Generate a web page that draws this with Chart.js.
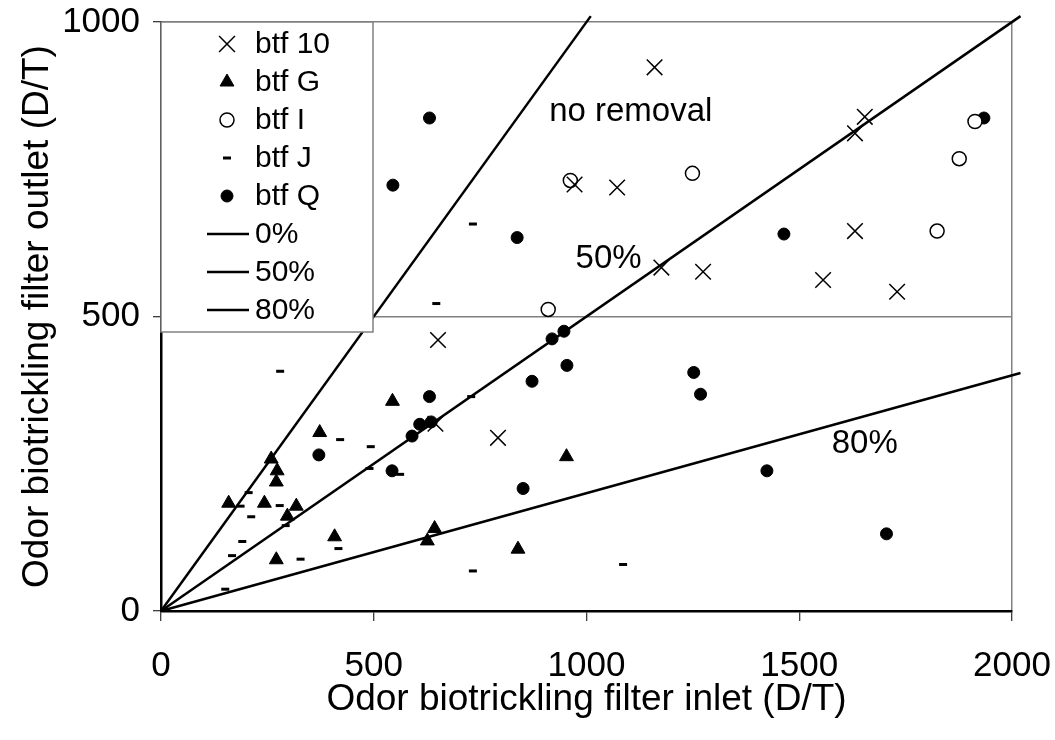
<!DOCTYPE html>
<html>
<head>
<meta charset="utf-8">
<script src="https://cdn.jsdelivr.net/npm/chart.js@4.4.1/dist/chart.umd.min.js"></script>
<style>
html, body { margin: 0; padding: 0; background: #fff; }
#wrap { width: 1055px; height: 740px; position: relative; }
</style>
</head>
<body>
<div id="wrap"><canvas id="odor"></canvas></div>
<script>
// inlet / outlet odor, D/T
const btf10 = [[1160,923],[1654,839],[1631,811],[972,724],[1072,719],[1176,583],[1274,576],
  [1631,645],[1556,562],[1730,542],[651,460],[792,294],[645,318]];
const btfG = [[544,356],[373,303],[259,258],[273,238],[271,219],[159,183],[243,183],[318,178],
  [297,161],[408,126],[271,87],[643,140],[626,119],[953,262],[839,105]];
const btfI = [[962,731],[1249,743],[910,512],[1913,831],[1876,768],[1824,645]];
const btfJ = [[647,522],[733,657],[280,407],[421,291],[493,279],[490,242],[562,232],[206,201],
  [187,178],[279,179],[212,160],[293,145],[417,106],[191,118],[167,94],[328,88],[151,37],
  [729,364],[733,68],[1086,79]];
const btfQ = [[631,837],[545,723],[837,634],[1464,640],[1934,837],[631,364],[608,317],[635,321],
  [590,297],[371,265],[543,238],[919,462],[947,475],[954,417],[872,390],[1252,405],[1268,368],
  [851,208],[1424,238],[1705,131]];

// removal reference lines (end points)
const line0 = [[0,0],[1010,1010]];
const line50 = [[0,0],[2020,1010]];
const line80 = [[0,0],[2020,404]];

const xTicks = [0, 500, 1000, 1500, 2000];
const yTicks = [0, 500, 1000];

const noteText = ['no removal', '50%', '80%'];
const noteX = [1104, 1052, 1654];
const noteY = [847, 597, 283];

const FONT = "'Liberation Sans', Arial, sans-serif";
const pts = arr => arr.map(([x, y]) => ({x, y}));

function mark(label, data, style, r, fill, bw) {
  return {
    type: 'scatter', label, data: pts(data), pointStyle: style, pointRadius: r,
    pointBackgroundColor: fill, pointBorderColor: '#000', pointBorderWidth: bw
  };
}
function refLine(label, data) {
  return {
    type: 'line', label, data: pts(data), borderColor: '#000', borderWidth: 2.5,
    pointRadius: 0, fill: false, tension: 0, clip: false
  };
}

function drawMark(ctx, ds, cx, cy) {
  const r = ds.pointRadius;
  ctx.lineWidth = ds.pointBorderWidth;
  ctx.fillStyle = ds.pointBackgroundColor;
  ctx.strokeStyle = '#000';
  ctx.beginPath();
  if (ds.pointStyle === 'crossRot') {
    const d = r * 0.72;
    ctx.moveTo(cx - d, cy - d); ctx.lineTo(cx + d, cy + d);
    ctx.moveTo(cx + d, cy - d); ctx.lineTo(cx - d, cy + d);
    ctx.stroke();
  } else if (ds.pointStyle === 'triangle') {
    ctx.moveTo(cx, cy - r);
    ctx.lineTo(cx + r * 0.866, cy + r / 2);
    ctx.lineTo(cx - r * 0.866, cy + r / 2);
    ctx.closePath(); ctx.fill(); ctx.stroke();
  } else if (ds.pointStyle === 'line') {
    ctx.moveTo(cx - r, cy); ctx.lineTo(cx + r, cy); ctx.stroke();
  } else {
    ctx.arc(cx, cy, r, 0, Math.PI * 2);
    ctx.fill(); ctx.stroke();
  }
}

const boxLegend = {
  id: 'boxLegend',
  afterDatasetsDraw(chart) {
    const {ctx, chartArea} = chart;
    const x0 = chartArea.left, y0 = chartArea.top;
    const w = 212, rowH = 38, h = 310;
    ctx.save();
    ctx.fillStyle = '#fff';
    ctx.fillRect(x0, y0, w, h);
    ctx.strokeStyle = '#808080';
    ctx.lineWidth = 1.5;
    ctx.strokeRect(x0, y0, w, h);
    ctx.font = '30px ' + FONT;
    ctx.textBaseline = 'middle';
    chart.data.datasets.forEach((ds, i) => {
      const cy = y0 + 22 + i * rowH;
      if (ds.type === 'line') {
        ctx.strokeStyle = '#000';
        ctx.lineWidth = 2.5;
        ctx.beginPath();
        ctx.moveTo(x0 + 46, cy); ctx.lineTo(x0 + 88, cy);
        ctx.stroke();
      } else {
        drawMark(ctx, ds, x0 + 66, cy);
      }
      ctx.fillStyle = '#000';
      ctx.textAlign = 'left';
      ctx.fillText(ds.label, x0 + 94, cy + 1);
    });
    ctx.restore();
  }
};

const notes = {
  id: 'notes',
  afterDatasetsDraw(chart) {
    const {ctx, scales} = chart;
    ctx.save();
    ctx.font = '33px ' + FONT;
    ctx.fillStyle = '#000';
    ctx.textAlign = 'center';
    ctx.textBaseline = 'middle';
    noteText.forEach((t, i) => ctx.fillText(t, scales.x.getPixelForValue(noteX[i]), scales.y.getPixelForValue(noteY[i])));
    ctx.restore();
  }
};

// keep plot box where the reference has it: no extra room for tick labels
function noPad(s) {
  s.paddingTop = 0; s.paddingBottom = 0; s.paddingLeft = 0; s.paddingRight = 0;
}

new Chart(document.getElementById('odor'), {
  data: {
    datasets: [
      mark('btf 10', btf10, 'crossRot', 11, 'rgba(0,0,0,0)', 1.5),
      mark('btf G', btfG, 'triangle', 8, '#000', 1),
      mark('btf I', btfI, 'circle', 7, '#fff', 1.5),
      mark('btf J', btfJ, 'line', 4, '#000', 3),
      mark('btf Q', btfQ, 'circle', 6, '#000', 1),
      refLine('0%', line0),
      refLine('50%', line50),
      refLine('80%', line80)
    ]
  },
  options: {
    responsive: true,
    maintainAspectRatio: false,
    animation: false,
    events: [],
    layout: { padding: { top: 22, right: 43, left: 0, bottom: 0 } },
    plugins: { legend: { display: false }, tooltip: { enabled: false } },
    scales: {
      x: {
        type: 'linear', min: 0, max: 2000,
        afterBuildTicks: s => { s.ticks = xTicks.map(v => ({value: v})); },
        afterFit: s => { s.height = 129; noPad(s); },
        ticks: { color: '#000', font: { family: FONT, size: 35 }, padding: 24, maxRotation: 0,
          callback: v => String(v) },
        grid: {
          color: c => c.tick && c.tick.value === 2000 ? '#808080' : 'rgba(0,0,0,0)',
          tickColor: '#000', tickLength: 10, tickWidth: 1, lineWidth: 1.5
        },
        border: { color: '#000', width: 2.5 },
        title: {
          display: true, text: 'Odor biotrickling filter inlet (D/T)', color: '#000',
          font: { family: FONT, size: 37 }, padding: { top: 0, bottom: 18 }
        }
      },
      y: {
        type: 'linear', min: 0, max: 1000,
        afterBuildTicks: s => { s.ticks = yTicks.map(v => ({value: v})); },
        afterFit: s => { s.width = 161; noPad(s); },
        ticks: { color: '#000', font: { family: FONT, size: 35 }, padding: 13,
          callback: v => String(v) },
        grid: {
          color: c => c.tick && c.tick.value === 0 ? 'rgba(0,0,0,0)' : '#808080',
          tickColor: '#000', tickLength: 8, tickWidth: 1, lineWidth: 1.5
        },
        border: { color: '#000', width: 2.5 },
        title: {
          display: true, text: 'Odor biotrickling filter outlet (D/T)', color: '#000',
          font: { family: FONT, size: 37 }, padding: { top: 16, bottom: 0 }
        }
      }
    }
  },
  plugins: [boxLegend, notes]
});
</script>
</body>
</html>
